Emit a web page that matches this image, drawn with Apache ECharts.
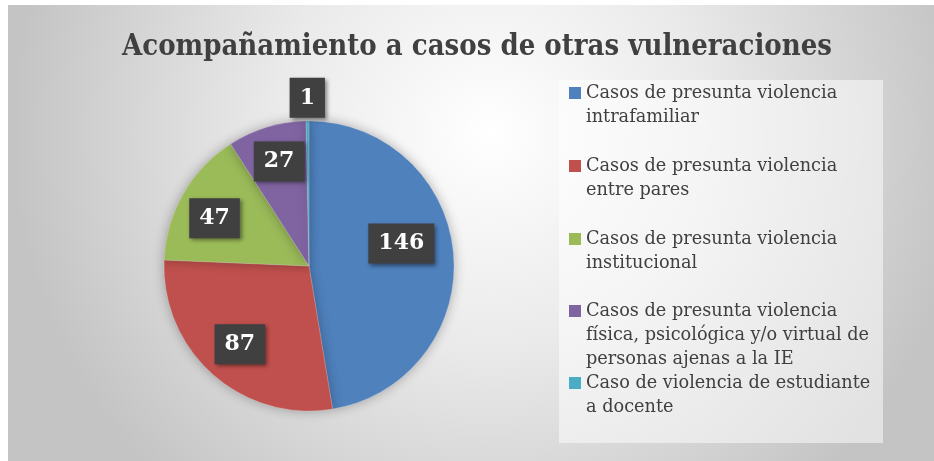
<!DOCTYPE html>
<html>
<head>
<meta charset="utf-8">
<script src="https://cdn.jsdelivr.net/npm/echarts@6/dist/echarts.min.js"></script>
<style>
  html, body { margin: 0; padding: 0; background: #fff; }
  #chart { position: absolute; left: 8px; top: 5px; width: 926px; height: 456px; }
</style>
</head>
<body>
<div id="chart"></div>
<script>
// data
const categories = [
  'Casos de presunta violencia\nintrafamiliar',
  'Casos de presunta violencia\nentre pares',
  'Casos de presunta violencia\ninstitucional',
  'Casos de presunta violencia\nfísica, psicológica y/o virtual de\npersonas ajenas a la IE',
  'Caso de violencia de estudiante\na docente'
];
const values = [146, 87, 47, 27, 1];
const colors = ['#4F81BD', '#C0504D', '#9BBB59', '#8064A2', '#4BACC6'];

// pie geometry (container px) and label placement
const cx = 301, cy = 261, R = 145;
const labelDist = [0.655, 0.72, 0.73, 0.75, 1.16];
const labelTurn = [-9, 0, -3, 1, 0]; // degrees, nudges like Office "best fit"
const legendTops = [79, 152, 225, 297, 369];

const total = values.reduce((a, b) => a + b, 0);
function labelPos(i) {
  let before = 0;
  for (let k = 0; k < i; k++) before += values[k];
  const mid = (before + values[i] / 2) / total * Math.PI * 2 + labelTurn[i] * Math.PI / 180;
  return [cx + labelDist[i] * R * Math.sin(mid), cy - labelDist[i] * R * Math.cos(mid)];
}

const serif = '"DejaVu Serif", serif';
const rich = {
  g: { width: 5 },
  g2: { width: 17 },
  t: { fontFamily: serif, fontSize: 17.7, color: '#404040', lineHeight: 24.3, verticalAlign: 'middle' }
};
colors.forEach(function (c, i) {
  rich['m' + i] = { width: 12, height: 12, backgroundColor: c, verticalAlign: 'middle', fontSize: 1 };
});

function legendText(name) {
  const i = categories.indexOf(name);
  return name.split('\n').map(function (l, k) {
    return (k === 0 ? '{m' + i + '| }{g|}' : '{g2|}') + '{t|' + l + '}';
  }).join('\n');
}

let myChart = echarts.init(document.getElementById('chart'));
myChart.setOption({
  backgroundColor: {
    type: 'radial', x: 0.52, y: 0.28, r: 1.05,
    colorStops: [
      { offset: 0, color: '#ffffff' },
      { offset: 0.45, color: '#eaeaea' },
      { offset: 1, color: '#c4c4c4' }
    ]
  },
  color: colors,
  title: {
    text: 'Acompañamiento a casos de otras vulneraciones',
    left: 464,
    textAlign: 'center',
    top: 23,
    textStyle: {
      fontFamily: '"DejaVu Serif Condensed", "DejaVu Serif", serif',
      fontWeight: 'bold',
      fontSize: 29,
      color: '#404040'
    }
  },
  graphic: [{
    type: 'rect',
    shape: { x: 551, y: 75, width: 324, height: 363 },
    style: { fill: 'rgba(255,255,255,0.5)' },
    z: 0
  }],
  legend: categories.map(function (n, i) {
    return {
      orient: 'vertical',
      left: 556,
      top: legendTops[i],
      padding: 0,
      itemWidth: 0,
      itemHeight: 12,
      icon: 'none',
      data: [n],
      formatter: legendText,
      textStyle: { rich: rich }
    };
  }),
  series: [{
    type: 'pie',
    center: [cx, cy],
    radius: R,
    startAngle: 90,
    clockwise: true,
    avoidLabelOverlap: false,
    itemStyle: {
      borderColor: 'rgba(255,255,255,0.35)',
      borderWidth: 0.5,
      shadowBlur: 12,
      shadowColor: 'rgba(0,0,0,0.3)'
    },
    emphasis: { scale: false },
    label: {
      show: true,
      position: 'inside',
      formatter: '{c}',
      fontFamily: serif,
      fontWeight: 'bold',
      fontSize: 22,
      lineHeight: 24,
      color: '#ffffff',
      backgroundColor: '#404040',
      padding: [8, 10],
      shadowColor: 'rgba(0,0,0,0.45)',
      shadowBlur: 4,
      shadowOffsetX: 2,
      shadowOffsetY: 2
    },
    labelLine: { show: false },
    labelLayout: function (params) {
      const p = labelPos(params.dataIndex);
      return { x: p[0], y: p[1], align: 'center', verticalAlign: 'middle' };
    },
    data: categories.map(function (n, i) { return { name: n, value: values[i] }; })
  }]
});
</script>
</body>
</html>
